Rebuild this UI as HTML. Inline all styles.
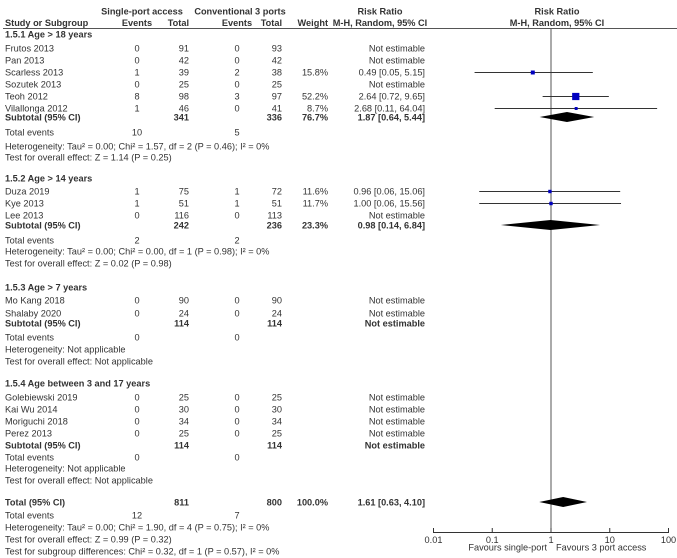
<!DOCTYPE html>
<html><head><meta charset="utf-8"><style>
body{margin:0;background:#fff}
svg{display:block;font-family:"Liberation Sans",Arial,sans-serif;font-size:9.2px;fill:#333}
.b{font-weight:bold}
</style></head><body>
<svg id="c" width="677" height="558" viewBox="0 0 677 558" xmlns="http://www.w3.org/2000/svg"></svg>
<script>
// ---- data ----
const rowLabels=["Frutos 2013","Pan 2013","Scarless 2013","Sozutek 2013","Teoh 2012","Vilallonga 2012","Duza 2019","Kye 2013","Lee 2013","Mo Kang 2018","Shalaby 2020","Golebiewski 2019","Kai Wu 2014","Moriguchi 2018","Perez 2013"];
const rowY=[48,60,72,84,96,108,191,203,215,300,313,397,409,421,433];
const events1=[0,0,1,0,8,1,1,1,0,0,0,0,0,0,0];
const totals1=[91,42,39,25,98,46,75,51,116,90,24,25,30,34,25];
const events2=[0,0,2,0,3,0,1,1,0,0,0,0,0,0,0];
const totals2=[93,42,38,25,97,41,72,51,113,90,24,25,30,34,25];
const weights=[null,null,15.8,null,52.2,8.7,11.6,11.7,null,null,null,null,null,null,null];
const rrEst=[null,null,0.49,null,2.64,2.68,0.96,1.00,null,null,null,null,null,null,null];
const rrLo=[null,null,0.05,null,0.72,0.11,0.06,0.06,null,null,null,null,null,null,null];
const rrHi=[null,null,5.15,null,9.65,64.04,15.06,15.56,null,null,null,null,null,null,null];
const subLabels=["Subtotal (95% CI)","Subtotal (95% CI)","Subtotal (95% CI)","Subtotal (95% CI)","Total (95% CI)"];
const subY=[117,225,323,445,502];
const subT1=[341,242,114,114,811];
const subT2=[336,236,114,114,800];
const subW=["76.7%","23.3%","","","100.0%"];
const subEst=[1.87,0.98,null,null,1.61];
const subLo=[0.64,0.14,null,null,0.63];
const subHi=[5.44,6.84,null,null,4.10];
const ticks=[0.01,0.1,1,10,100];
const tickLabels=["0.01","0.1","1","10","100"];

const svg=document.getElementById('c');
const NS='http://www.w3.org/2000/svg';
function X(v){return 551+58.75*Math.log10(v);}
function el(tag,attrs,name){const e=document.createElementNS(NS,tag);for(const k in attrs)e.setAttribute(k,attrs[k]);


svg.appendChild(e);return e;}
function txt(s,x,y,anchor,cls,name){const t=el('text',{x:x,y:y+3.3,'text-anchor':anchor||'start'},name);if(cls)t.setAttribute('class',cls);t.textContent=s;return t;}
function fmt(v){return v.toFixed(2);}

// headers
txt("Single-port access",142,11,'middle','b','header-single-port');
txt("Conventional 3 ports",240,11,'middle','b','header-conventional');
txt("Risk Ratio",380,11,'middle','b','header-risk-ratio');
txt("Risk Ratio",557,11,'middle','b','header-plot-risk-ratio');
txt("Study or Subgroup",5,22.6,'start','b','header-study');
txt("Events",137,22.6,'middle','b','header-events-1');
txt("Total",189,22.6,'end','b','header-total-1');
txt("Events",237,22.6,'middle','b','header-events-2');
txt("Total",282,22.6,'end','b','header-total-2');
txt("Weight",328,22.6,'end','b','header-weight');
txt("M-H, Random, 95% CI",380,22.6,'middle','b','header-method');
txt("M-H, Random, 95% CI",557,22.6,'middle','b','header-plot-method');
el('line',{x1:3,y1:28.5,x2:677,y2:28.5,stroke:'#555','stroke-width':1},'header-rule');

// group titles
txt("1.5.1 Age > 18 years",5,34,'start','b','group-title-1');
txt("1.5.2 Age > 14 years",5,178,'start','b','group-title-2');
txt("1.5.3 Age > 7 years",5,287,'start','b','group-title-3');
txt("1.5.4 Age between 3 and 17 years",5,383,'start','b','group-title-4');

// null line
el('line',{x1:X(1),y1:28.5,x2:X(1),y2:532,stroke:'#555','stroke-width':1},'null-line');

// studies
rowLabels.forEach((s,i)=>{
  const y=rowY[i];
  txt(s,5,y,'start','','study-name');
  txt(String(events1[i]),137,y,'middle','','events-1');
  txt(String(totals1[i]),189,y,'end','','total-1');
  txt(String(events2[i]),237,y,'middle','','events-2');
  txt(String(totals2[i]),282,y,'end','','total-2');
  if(weights[i]!==null) txt(weights[i].toFixed(1)+"%",328,y,'end','','weight');
  if(rrEst[i]===null){txt("Not estimable",425,y,'end','','risk-ratio-text');}
  else{
    txt(fmt(rrEst[i])+" ["+fmt(rrLo[i])+", "+fmt(rrHi[i])+"]",425,y,'end','','risk-ratio-text');
    el('line',{x1:X(rrLo[i]),y1:y+0.5,x2:X(rrHi[i]),y2:y+0.5,stroke:'#333','stroke-width':1},'ci-line');
    const sz=Math.max(2,Math.sqrt(weights[i])*1.0);
    el('rect',{x:X(rrEst[i])-sz/2,y:y+0.5-sz/2,width:sz,height:sz,fill:'#0000c0'},'study-marker');
  }
});

// subtotals
subLabels.forEach((s,i)=>{
  const y=subY[i];
  txt(s,5,y,'start','b','subtotal-label');
  txt(String(subT1[i]),189,y,'end','b','subtotal-total-1');
  txt(String(subT2[i]),282,y,'end','b','subtotal-total-2');
  if(subW[i]) txt(subW[i],328,y,'end','b','subtotal-weight');
  if(subEst[i]===null){txt("Not estimable",425,y,'end','b','subtotal-rr-text');}
  else{
    txt(fmt(subEst[i])+" ["+fmt(subLo[i])+", "+fmt(subHi[i])+"]",425,y,'end','b','subtotal-rr-text');
    const l=X(subLo[i]),h=X(subHi[i]),m=X(subEst[i]);
    el('polygon',{points:`${l},${y} ${m},${y-5} ${h},${y} ${m},${y+5}`,fill:'#000'},'subtotal-diamond');
  }
});

// footer text rows
const notes=[
 ["Total events",132,"10","5"],
 ["Heterogeneity: Tau\u00b2 = 0.00; Chi\u00b2 = 1.57, df = 2 (P = 0.46); I\u00b2 = 0%",146],
 ["Test for overall effect: Z = 1.14 (P = 0.25)",157],
 ["Total events",240,"2","2"],
 ["Heterogeneity: Tau\u00b2 = 0.00; Chi\u00b2 = 0.00, df = 1 (P = 0.98); I\u00b2 = 0%",251],
 ["Test for overall effect: Z = 0.02 (P = 0.98)",263],
 ["Total events",337,"0","0"],
 ["Heterogeneity: Not applicable",349],
 ["Test for overall effect: Not applicable",361],
 ["Total events",457,"0","0"],
 ["Heterogeneity: Not applicable",468],
 ["Test for overall effect: Not applicable",480],
 ["Total events",515,"12","7"],
 ["Heterogeneity: Tau\u00b2 = 0.00; Chi\u00b2 = 1.90, df = 4 (P = 0.75); I\u00b2 = 0%",527],
 ["Test for overall effect: Z = 0.99 (P = 0.32)",539],
 ["Test for subgroup differences: Chi\u00b2 = 0.32, df = 1 (P = 0.57), I\u00b2 = 0%",551]
];
notes.forEach(n=>{
  txt(n[0],5,n[1],'start','','note-text');
  if(n[2]!==undefined){txt(n[2],137,n[1],'middle','','total-events-1');txt(n[3],237,n[1],'middle','','total-events-2');}
});

// axis
el('line',{x1:X(0.01),y1:532.5,x2:X(100),y2:532.5,stroke:'#333','stroke-width':1},'x-axis-line');
ticks.forEach((t,i)=>{
  el('line',{x1:X(t),y1:528,x2:X(t),y2:533,stroke:'#333','stroke-width':1},'x-axis-tick');
  txt(tickLabels[i],X(t),539.5,'middle','','x-axis-tick-label');
});
txt("Favours single-port",547,547,'end','','favours-left-label');
txt("Favours 3 port access",556,547,'start','','favours-right-label');
</script>
</body></html>
